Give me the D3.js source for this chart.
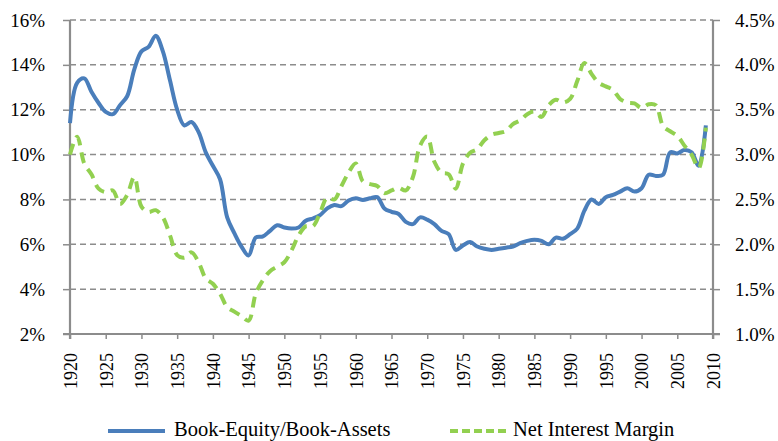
<!DOCTYPE html>
<html><head><meta charset="utf-8">
<script src="https://cdn.jsdelivr.net/npm/d3@7"></script>
<style>body{margin:0;background:#fff;} svg{display:block;}</style>
</head><body>
<svg id="c" width="778" height="441"></svg>
<script>
const years = d3.range(1920, 2010);
const bookEquity = [11.4,13.2,13.4,12.8,12.3,11.9,11.8,12.2,12.6,13.8,14.6,14.8,15.3,14.6,13.3,12.0,11.3,11.45,11.0,10.1,
9.5,8.9,7.2,6.5,5.9,5.5,6.3,6.35,6.6,6.85,6.75,6.7,6.75,7.05,7.15,7.3,7.6,7.75,7.7,7.95,
8.05,7.98,8.05,8.1,7.6,7.45,7.35,7.0,6.9,7.2,7.1,6.9,6.6,6.45,5.75,5.95,6.1,5.9,5.8,5.75,
5.8,5.85,5.9,6.05,6.15,6.2,6.15,6.0,6.3,6.25,6.45,6.7,7.5,8.0,7.8,8.1,8.2,8.35,8.5,8.35,
8.5,9.1,9.05,9.1,10.1,10.05,10.2,10.1,9.5,11.3];
const netInterestMargin = [3.0,3.2,2.9,2.78,2.62,2.58,2.6,2.45,2.55,2.75,2.42,2.36,2.38,2.3,2.1,1.88,1.85,1.91,1.8,1.62,
1.56,1.45,1.3,1.25,1.2,1.15,1.45,1.6,1.7,1.75,1.8,1.93,2.1,2.2,2.2,2.35,2.52,2.5,2.65,2.8,
2.9,2.7,2.67,2.65,2.57,2.6,2.63,2.6,2.75,3.1,3.2,2.92,2.8,2.78,2.62,2.9,3.02,3.06,3.16,3.22,
3.24,3.26,3.34,3.38,3.45,3.48,3.42,3.55,3.61,3.58,3.62,3.82,4.02,3.9,3.8,3.76,3.72,3.62,3.58,3.57,
3.52,3.56,3.55,3.32,3.26,3.21,3.1,3.0,2.85,3.3];
const xTicks = d3.range(1920, 2011, 5);
const leftTicks = [2,4,6,8,10,12,14,16];
const rightTicks = [1.0,1.5,2.0,2.5,3.0,3.5,4.0,4.5];
const seriesNames = ["Book-Equity/Book-Assets", "Net Interest Margin"];

const L = 70, R = 713, T = 20, B = 334;
const svg = d3.select("#c");
const x = d3.scaleLinear().domain([1920, 2010]).range([L, R]);
const yL = d3.scaleLinear().domain([2, 16]).range([B, T]);
const yR = d3.scaleLinear().domain([1.0, 4.5]).range([B, T]);
const font = "'Liberation Serif','Times New Roman',serif";
const gridCol = "#8c8c8c";

// gridlines
svg.append("g").selectAll("line").data(leftTicks.slice(1)).join("line")
  .attr("x1", L).attr("x2", R).attr("y1", d => yL(d)).attr("y2", d => yL(d))
  .attr("stroke", gridCol).attr("stroke-width", 1.5).attr("stroke-dasharray", "6,4");

// axes
const axL = svg.append("g").attr("transform", `translate(${L},0)`)
  .call(d3.axisLeft(yL).tickValues(leftTicks).tickFormat(d => d + "%").tickSize(7).tickPadding(18));
const axR = svg.append("g").attr("transform", `translate(${R},0)`)
  .call(d3.axisRight(yR).tickValues(rightTicks).tickFormat(d => d.toFixed(1) + "%").tickSize(7).tickPadding(15));
const axB = svg.append("g").attr("transform", `translate(0,${B})`)
  .call(d3.axisBottom(x).tickValues(xTicks).tickFormat(d3.format("d")).tickSize(5));
[axL, axR, axB].forEach(a => {
  a.selectAll("path").attr("stroke", gridCol).attr("stroke-width", 2.2);
  a.selectAll("line").attr("stroke", gridCol).attr("stroke-width", 1.5);
  a.selectAll("text").attr("font-family", font).attr("font-size", 19).attr("fill", "#000");
});
axL.select("path").attr("d", `M-7,${B}H0V${T}`);
axR.select("path").attr("d", `M7,${B}H0V${T}`);
axB.select("path").attr("d", `M${L},5V0H${R}V5`);
axB.selectAll("text").attr("font-size", 18)
  .attr("transform", "rotate(-90)").attr("text-anchor", "end")
  .attr("x", -19).attr("y", 0).attr("dy", "0.35em");

// lines
const lineB = d3.line().x((d, i) => x(years[i])).y(d => yL(d)).curve(d3.curveCatmullRom.alpha(0.5));
const lineG = d3.line().x((d, i) => x(years[i])).y(d => yR(d)).curve(d3.curveCatmullRom.alpha(0.5));
svg.append("path").datum(bookEquity).attr("d", lineB).attr("fill", "none")
  .attr("stroke", "#4A7EBB").attr("stroke-width", 4).attr("stroke-linejoin", "round");
svg.append("path").datum(netInterestMargin).attr("d", lineG).attr("fill", "none")
  .attr("stroke", "#92D050").attr("stroke-width", 4).attr("stroke-dasharray", "11,7");

// legend
const lg = svg.append("g");
lg.append("line").attr("x1", 108).attr("x2", 165).attr("y1", 431).attr("y2", 431)
  .attr("stroke", "#4A7EBB").attr("stroke-width", 4);
lg.append("text").attr("x", 174).attr("y", 429).attr("dy", "0.35em").text(seriesNames[0])
  .attr("font-family", font).attr("font-size", 20.5);
lg.append("line").attr("x1", 450).attr("x2", 508).attr("y1", 431).attr("y2", 431)
  .attr("stroke", "#92D050").attr("stroke-width", 4).attr("stroke-dasharray", "8,4");
lg.append("text").attr("x", 513).attr("y", 429).attr("dy", "0.35em").text(seriesNames[1])
  .attr("font-family", font).attr("font-size", 20.5);
</script>
</body></html>
